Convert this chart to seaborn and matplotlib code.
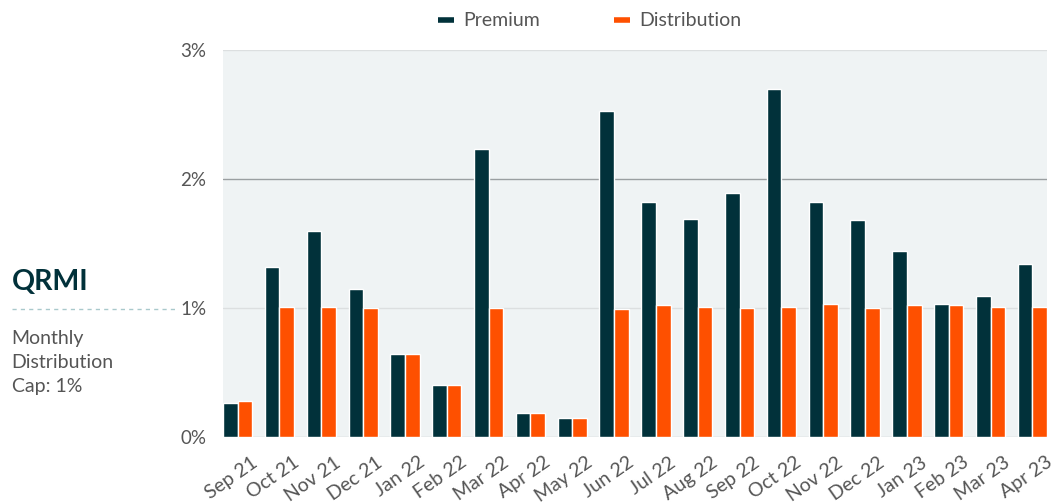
import matplotlib.pyplot as plt
import matplotlib.lines as mlines
import matplotlib.transforms as mtransforms
import pandas as pd
import seaborn as sns

months = ['Sep 21', 'Oct 21', 'Nov 21', 'Dec 21', 'Jan 22', 'Feb 22', 'Mar 22',
          'Apr 22', 'May 22', 'Jun 22', 'Jul 22', 'Aug 22', 'Sep 22', 'Oct 22',
          'Nov 22', 'Dec 22', 'Jan 23', 'Feb 23', 'Mar 23', 'Apr 23']
premium = [0.264, 1.32, 1.60, 1.15, 0.64, 0.40, 2.23, 0.19, 0.15, 2.53,
           1.82, 1.69, 1.89, 2.70, 1.82, 1.68, 1.44, 1.03, 1.09, 1.34]
distribution = [0.28, 1.01, 1.01, 1.00, 0.64, 0.40, 1.00, 0.19, 0.15, 0.99,
                1.02, 1.01, 1.00, 1.01, 1.03, 1.00, 1.02, 1.02, 1.01, 1.01]
series = ['Premium', 'Distribution']
colors = ['#01313a', '#fe5000']

df = pd.DataFrame({
    'month': months * 2,
    'value': premium + distribution,
    'series': [series[0]] * len(months) + [series[1]] * len(months),
})

sns.set_style('white')
plt.rcParams['font.family'] = ['Lato', 'DejaVu Sans']

fig = plt.figure(figsize=(10.59, 5.04), dpi=100)
ax = fig.add_axes([0.2106, 0.1329, 0.7781, 0.7679])

sns.barplot(data=df, x='month', y='value', hue='series', palette=colors,
            width=0.7, gap=0, saturation=1, ax=ax, legend=False)

ax.set_facecolor('#eff3f4')
ax.set_xlim(-0.35, len(months) - 0.65)
ax.set_ylim(0, 3)
ax.set_yticks([0, 1, 2, 3])
ax.set_yticklabels(['0%', '1%', '2%', '3%'])
ax.set_xlabel('')
ax.set_ylabel('')
for s in ax.spines.values():
    s.set_visible(False)

for y, c in [(1, '#dcdfe0'), (2, '#9a9fa1'), (3, '#dcdfe0'), (0, '#c8cccd')]:
    ax.axhline(y, color=c, lw=1, zorder=0.5)

ax.tick_params(axis='y', length=8, width=1, color='#c8cccd', pad=4,
               labelsize=13.5, labelcolor='#555555')
ax.tick_params(axis='x', length=0, pad=12, labelsize=14, labelcolor='#555555')
shift = mtransforms.ScaledTranslation(13 / 100, 0, fig.dpi_scale_trans)
for lab in ax.get_xticklabels():
    lab.set_rotation(35)
    lab.set_ha('right')
    lab.set_rotation_mode('anchor')
    lab.set_transform(lab.get_transform() + shift)

handles = [mlines.Line2D([], [], color=c, lw=4, solid_capstyle='butt')
           for c in colors]
fig.legend(handles, series, loc='upper center', bbox_to_anchor=(0.557, 1.01),
           ncol=2, frameon=False, fontsize=14, handlelength=0.8,
           handletextpad=0.5, columnspacing=3.8, labelcolor='#555555')

fig.text(0.011, 0.425, 'QRMI', fontsize=20.5, fontweight='bold', color='#01313a')
fig.add_artist(mlines.Line2D([0.011, 0.168], [0.387, 0.387], color='#a9c9cc',
                             lw=1, ls=(0, (3, 3))))
fig.text(0.011, 0.222, 'Monthly\nDistribution\nCap: 1%', fontsize=14,
         color='#555555', linespacing=1.5, va='baseline')

fig.savefig('out.png', dpi=100)
